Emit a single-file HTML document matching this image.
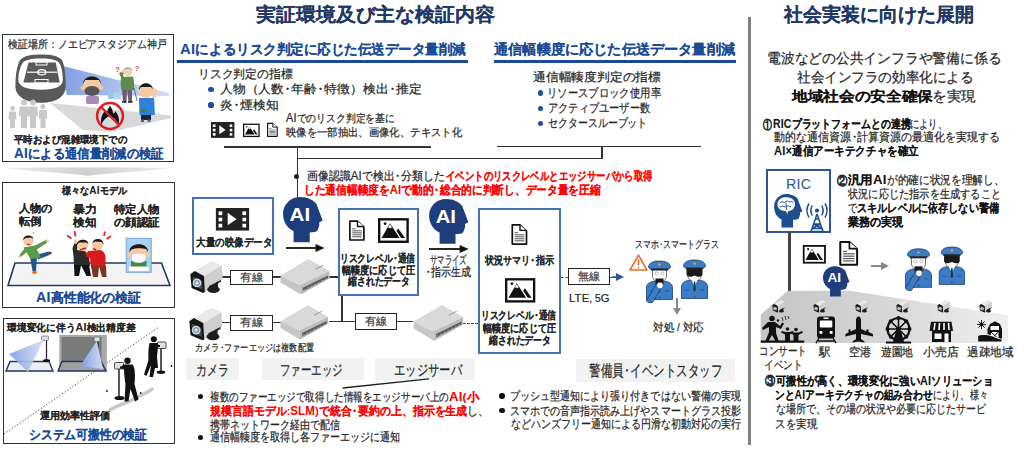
<!DOCTYPE html>
<html lang="ja"><head><meta charset="utf-8"><style>
html,body{margin:0;padding:0;background:#fff;width:1024px;height:451px;overflow:hidden;position:relative}
body{font-family:"Liberation Sans",sans-serif}
.t{position:absolute;white-space:nowrap;line-height:1;transform-origin:0 50%;-webkit-text-stroke:0.22px currentColor}
.b{font-weight:bold;-webkit-text-stroke:0.05px currentColor}
.n{margin:0 -0.22em}
.ai{font-size:1.1em;letter-spacing:0.02em}
svg{position:absolute;overflow:visible}
</style></head><body>

<div style="position:absolute;left:2.2px;top:33.8px;width:171.8px;height:128.60000000000002px;box-sizing:border-box;border:1.8px solid #333;background:transparent;"></div>
<div style="position:absolute;left:2.2px;top:181.6px;width:172.8px;height:126.79999999999998px;box-sizing:border-box;border:1.8px solid #333;background:transparent;"></div>
<div style="position:absolute;left:2.8px;top:317.8px;width:172.2px;height:126.59999999999997px;box-sizing:border-box;border:1.8px solid #333;background:transparent;"></div>
<div style="position:absolute;left:177px;top:60.199999999999996px;width:291px;height:3.2px;background:#1a4a96"></div>
<div style="position:absolute;left:494px;top:60.199999999999996px;width:241.5px;height:3.2px;background:#1a4a96"></div>
<div style="position:absolute;left:208.4px;top:87.0px;width:5.2px;height:5.2px;border-radius:50%;background:#1f4e9c"></div>
<div style="position:absolute;left:208.4px;top:102.4px;width:5.2px;height:5.2px;border-radius:50%;background:#1f4e9c"></div>
<div style="position:absolute;left:537.9px;top:90.4px;width:5.2px;height:5.2px;border-radius:50%;background:#1f4e9c"></div>
<div style="position:absolute;left:537.9px;top:105.7px;width:5.2px;height:5.2px;border-radius:50%;background:#1f4e9c"></div>
<div style="position:absolute;left:537.9px;top:121.0px;width:5.2px;height:5.2px;border-radius:50%;background:#1f4e9c"></div>
<div style="position:absolute;left:224px;top:146.25px;width:207px;height:1.5px;background:#333"></div>
<div style="position:absolute;left:497px;top:145.75px;width:204px;height:1.5px;background:#333"></div>
<div style="position:absolute;left:296.75px;top:147px;width:1.5px;height:50px;background:#333"></div>
<div style="position:absolute;left:601.45px;top:146.5px;width:1.5px;height:12.0px;background:#333"></div>
<div style="position:absolute;left:297.5px;top:157.75px;width:305.4px;height:1.5px;background:#333"></div>
<div style="position:absolute;left:293.5px;top:173.5px;width:5px;height:5px;border-radius:50%;background:#222"></div>
<div style="position:absolute;left:192px;top:196.9px;width:82.19999999999999px;height:57.900000000000006px;box-sizing:border-box;border:2px solid #4672b4;background:transparent;"></div>
<div style="position:absolute;left:337.6px;top:207.6px;width:81.79999999999995px;height:88.4px;box-sizing:border-box;border:2px solid #4672b4;background:transparent;"></div>
<div style="position:absolute;left:477.6px;top:207.6px;width:83.60000000000002px;height:146.79999999999998px;box-sizing:border-box;border:2px solid #4672b4;background:transparent;"></div>
<div style="position:absolute;left:230px;top:270px;width:42.5px;height:15.199999999999989px;box-sizing:border-box;border:1.5px solid #222;background:#fff;"></div>
<div style="position:absolute;left:222px;top:276.25px;width:8px;height:1.5px;background:#333"></div>
<div style="position:absolute;left:272.5px;top:276.25px;width:8.5px;height:1.5px;background:#333"></div>
<div style="position:absolute;left:329px;top:276.25px;width:9px;height:1.5px;background:#333"></div>
<div style="position:absolute;left:230px;top:315px;width:42.5px;height:16.19999999999999px;box-sizing:border-box;border:1.5px solid #222;background:#fff;"></div>
<div style="position:absolute;left:222px;top:321.75px;width:8px;height:1.5px;background:#333"></div>
<div style="position:absolute;left:272.5px;top:321.75px;width:8.5px;height:1.5px;background:#333"></div>
<div style="position:absolute;left:329px;top:320.75px;width:26px;height:1.5px;background:#333"></div>
<div style="position:absolute;left:341.05px;top:295.6px;width:1.5px;height:26.399999999999977px;background:#333"></div>
<div style="position:absolute;left:355px;top:313.3px;width:41.80000000000001px;height:17.19999999999999px;box-sizing:border-box;border:1.5px solid #222;background:#fff;"></div>
<div style="position:absolute;left:396.8px;top:320.75px;width:16.19999999999999px;height:1.5px;background:#333"></div>
<div style="position:absolute;left:463px;top:322.55px;width:15px;height:0;border-top:1.5px dashed #2e5597"></div>
<div style="position:absolute;left:561px;top:276.55px;width:7px;height:0;border-top:1.5px dashed #2e5597"></div>
<div style="position:absolute;left:568px;top:268px;width:41.700000000000045px;height:16.600000000000023px;box-sizing:border-box;border:1.5px solid #222;background:#fff;"></div>
<div style="position:absolute;left:186.4px;top:358.2px;width:52.19999999999999px;height:21.69999999999999px;box-sizing:border-box;border:none;background:#f2f2f2;"></div>
<div style="position:absolute;left:262px;top:358.2px;width:102px;height:21.69999999999999px;box-sizing:border-box;border:none;background:#f2f2f2;"></div>
<div style="position:absolute;left:374.8px;top:358.2px;width:100.69999999999999px;height:21.69999999999999px;box-sizing:border-box;border:none;background:#f2f2f2;"></div>
<div style="position:absolute;left:575.8px;top:358.5px;width:159.20000000000005px;height:23.100000000000023px;box-sizing:border-box;border:none;background:#f2f2f2;"></div>
<div style="position:absolute;left:198.10000000000002px;top:393.90000000000003px;width:5.4px;height:5.4px;border-radius:50%;background:#111"></div>
<div style="position:absolute;left:198.10000000000002px;top:434.6px;width:5.4px;height:5.4px;border-radius:50%;background:#111"></div>
<div style="position:absolute;left:499.3px;top:393.3px;width:5.4px;height:5.4px;border-radius:50%;background:#111"></div>
<div style="position:absolute;left:499.3px;top:408.1px;width:5.4px;height:5.4px;border-radius:50%;background:#111"></div>
<div style="position:absolute;left:748.2px;top:17.3px;width:3.3px;height:427.5px;background:#7f7f7f"></div>
<div style="position:absolute;left:766px;top:168.6px;width:65.20000000000005px;height:64.80000000000001px;box-sizing:border-box;border:2px solid #2e5597;background:transparent;"></div>
<div style="position:absolute;left:787.7px;top:232.4px;width:3px;height:59.099999999999994px;background:#444"></div>
<svg style="left:211.3px;top:122.1px" width="23.4" height="15.9" viewBox="0 0 23.4 15.9"><rect width="23.4" height="15.9" fill="#222"/><rect x="1.9000000000000001" y="2.4000000000000004" width="2.6" height="2.6" fill="#fff"/><rect x="1.9000000000000001" y="6.8" width="2.6" height="2.6" fill="#fff"/><rect x="1.9000000000000001" y="11.1" width="2.6" height="2.6" fill="#fff"/><rect x="18.7" y="2.4000000000000004" width="2.6" height="2.6" fill="#fff"/><rect x="18.7" y="6.8" width="2.6" height="2.6" fill="#fff"/><rect x="18.7" y="11.1" width="2.6" height="2.6" fill="#fff"/><polygon points="8.3,3.3 14.6,8 8.3,12.2" fill="#fff"/></svg>
<svg style="left:242.5px;top:122.8px" width="16.7" height="14.7" viewBox="0 0 31 25"><rect x="1.2" y="1.2" width="28.6" height="22.6" fill="#fff" stroke="#111" stroke-width="2.4"/><polygon points="3.6,20 12.1,5.2 21.6,20" fill="#111"/><polygon points="10.2,9 12.1,6.2 14,9 13,10.3 12.1,9.6 11.2,10.3" fill="#fff"/><polygon points="18.6,12.6 20.4,10.4 27.2,20 23.2,20" fill="#111"/><circle cx="7.1" cy="5.6" r="1.4" fill="#111"/></svg>
<svg style="left:267.4px;top:122px" width="10.8" height="15.7" viewBox="0 0 16 21"><path d="M0.9,0.9 H8.6 L15.1,7 V20.1 H0.9 Z" fill="#fff" stroke="#111" stroke-width="1.7" stroke-linejoin="round"/><path d="M8.6,0.9 V6.4 H15.1" fill="#fff" stroke="#111" stroke-width="1.4"/><rect x="3.3" y="8.3" width="3.3" height="0.9" fill="#444"/><rect x="3.3" y="10.3" width="9.6" height="1" fill="#555"/><rect x="3.3" y="12.3" width="9.6" height="1" fill="#555"/><rect x="3.3" y="14.3" width="9.6" height="1" fill="#555"/><rect x="3.3" y="16.3" width="9.6" height="1" fill="#555"/></svg>
<svg style="left:214px;top:207.6px" width="37" height="22.6" viewBox="0 0 23.4 15.9"><rect width="23.4" height="15.9" fill="#222"/><rect x="1.9000000000000001" y="2.4000000000000004" width="2.6" height="2.6" fill="#fff"/><rect x="1.9000000000000001" y="6.8" width="2.6" height="2.6" fill="#fff"/><rect x="1.9000000000000001" y="11.1" width="2.6" height="2.6" fill="#fff"/><rect x="18.7" y="2.4000000000000004" width="2.6" height="2.6" fill="#fff"/><rect x="18.7" y="6.8" width="2.6" height="2.6" fill="#fff"/><rect x="18.7" y="11.1" width="2.6" height="2.6" fill="#fff"/><polygon points="8.3,3.3 14.6,8 8.3,12.2" fill="#fff"/></svg>
<svg style="left:282.8px;top:196.8px" width="40" height="45.3" viewBox="0 0 40 45.3"><path d="M10.6,45.3 L10.6,34.2 C4,31 0,24.5 0,16.8 C0,7.5 7.5,0 17.2,0 C25,0 31,3.5 33.5,7 L35.5,12.5 L39.7,23.6 L36.3,25.3 L36.3,28.5 L34.5,33.5 C33,35 30.5,35.4 26.7,35.4 L26.7,45.3 Z" fill="#1f3d7d"/><text x="6.6" y="23.8" font-family="Liberation Sans" font-weight="bold" font-size="18.5" textLength="20.6" lengthAdjust="spacingAndGlyphs" fill="#fff">AI</text></svg>
<svg style="left:349.2px;top:220px" width="15.8" height="21.1" viewBox="0 0 16 21"><path d="M0.9,0.9 H8.6 L15.1,7 V20.1 H0.9 Z" fill="#fff" stroke="#111" stroke-width="1.7" stroke-linejoin="round"/><path d="M8.6,0.9 V6.4 H15.1" fill="#fff" stroke="#111" stroke-width="1.4"/><rect x="3.3" y="8.3" width="3.3" height="0.9" fill="#444"/><rect x="3.3" y="10.3" width="9.6" height="1" fill="#555"/><rect x="3.3" y="12.3" width="9.6" height="1" fill="#555"/><rect x="3.3" y="14.3" width="9.6" height="1" fill="#555"/><rect x="3.3" y="16.3" width="9.6" height="1" fill="#555"/></svg>
<svg style="left:378.4px;top:218px" width="30.8" height="25.1" viewBox="0 0 31 25"><rect x="1.2" y="1.2" width="28.6" height="22.6" fill="#fff" stroke="#111" stroke-width="2.4"/><polygon points="3.6,20 12.1,5.2 21.6,20" fill="#111"/><polygon points="10.2,9 12.1,6.2 14,9 13,10.3 12.1,9.6 11.2,10.3" fill="#fff"/><polygon points="18.6,12.6 20.4,10.4 27.2,20 23.2,20" fill="#111"/><circle cx="7.1" cy="5.6" r="1.4" fill="#111"/></svg>
<svg style="left:429.3px;top:198.6px" width="39.8" height="44.8" viewBox="0 0 40 45.3"><path d="M10.6,45.3 L10.6,34.2 C4,31 0,24.5 0,16.8 C0,7.5 7.5,0 17.2,0 C25,0 31,3.5 33.5,7 L35.5,12.5 L39.7,23.6 L36.3,25.3 L36.3,28.5 L34.5,33.5 C33,35 30.5,35.4 26.7,35.4 L26.7,45.3 Z" fill="#1f3d7d"/><text x="6.6" y="23.8" font-family="Liberation Sans" font-weight="bold" font-size="18.5" textLength="20.6" lengthAdjust="spacingAndGlyphs" fill="#fff">AI</text></svg>
<svg style="left:511px;top:223.5px" width="16.8" height="21" viewBox="0 0 16 21"><path d="M0.9,0.9 H8.6 L15.1,7 V20.1 H0.9 Z" fill="#fff" stroke="#111" stroke-width="1.7" stroke-linejoin="round"/><path d="M8.6,0.9 V6.4 H15.1" fill="#fff" stroke="#111" stroke-width="1.4"/><rect x="3.3" y="8.3" width="3.3" height="0.9" fill="#444"/><rect x="3.3" y="10.3" width="9.6" height="1" fill="#555"/><rect x="3.3" y="12.3" width="9.6" height="1" fill="#555"/><rect x="3.3" y="14.3" width="9.6" height="1" fill="#555"/><rect x="3.3" y="16.3" width="9.6" height="1" fill="#555"/></svg>
<svg style="left:504.7px;top:277.3px" width="30.3" height="26.7" viewBox="0 0 31 25"><rect x="1.2" y="1.2" width="28.6" height="22.6" fill="#fff" stroke="#111" stroke-width="2.4"/><polygon points="3.6,20 12.1,5.2 21.6,20" fill="#111"/><polygon points="10.2,9 12.1,6.2 14,9 13,10.3 12.1,9.6 11.2,10.3" fill="#fff"/><polygon points="18.6,12.6 20.4,10.4 27.2,20 23.2,20" fill="#111"/><circle cx="7.1" cy="5.6" r="1.4" fill="#111"/></svg>
<svg style="left:189.7px;top:260.9px" width="33" height="32" viewBox="0 0 33 32"><polygon points="4.7,10.1 22,0 31.8,4.4 14,15.1" fill="#e9e9e9"/><polygon points="14,15.1 31.8,4.4 32.7,18.1 14.9,31.1" fill="#cfcfcf"/><polygon points="26,21.5 31,18.8 31,20.8 26,23.5" fill="#333"/><polygon points="19,25 28,20.5 28,27 19,31" fill="#1e1e1e"/><ellipse cx="23.5" cy="28.5" rx="6.3" ry="3.4" fill="#1e1e1e"/><polygon points="0.3,13.3 4.7,10.1 14,15.1 14.9,31.1 13.1,31.9 1.6,27.1" fill="#161616"/><polygon points="2.6,15.5 12,20 12.5,28.8 3.4,24.6" fill="#4a4a4a"/><circle cx="7" cy="21.9" r="4.3" fill="#d5dbe0"/><circle cx="7" cy="21.9" r="3" fill="#7f9cba"/><circle cx="7" cy="21.9" r="1.5" fill="#e4ecf3"/></svg>
<svg style="left:279.7px;top:259.4px" width="50.5" height="35.9" viewBox="0 0 51 36"><polygon points="0.5,16.6 28.9,0 49.9,12 20.1,26.4" fill="#d9d9d9"/><polygon points="0.5,16.6 20.1,26.4 21,35.7 0.5,23.6" fill="#c6c6c6"/><polygon points="20.1,26.4 49.9,12 50.2,19.4 21,35.7" fill="#bdbdbd"/><polygon points="23,29 48.5,16.5 48.5,19.2 23,32.5" fill="#5a5a5a"/><line x1="23.5" y1="31.2" x2="25.5" y2="30.2" stroke="#bbb" stroke-width="0.7"/><line x1="27.1" y1="29.419999999999998" x2="29.1" y2="28.419999999999998" stroke="#bbb" stroke-width="0.7"/><line x1="30.7" y1="27.64" x2="32.7" y2="26.64" stroke="#bbb" stroke-width="0.7"/><line x1="34.3" y1="25.86" x2="36.3" y2="24.86" stroke="#bbb" stroke-width="0.7"/><line x1="37.9" y1="24.08" x2="39.9" y2="23.08" stroke="#bbb" stroke-width="0.7"/><line x1="41.5" y1="22.299999999999997" x2="43.5" y2="21.299999999999997" stroke="#bbb" stroke-width="0.7"/><line x1="45.1" y1="20.52" x2="47.1" y2="19.52" stroke="#bbb" stroke-width="0.7"/><polygon points="35,10 43,6 44,6.6 36,10.6" fill="#999"/></svg>
<svg style="left:189.3px;top:306.5px" width="33.7" height="34" viewBox="0 0 33 32"><polygon points="4.7,10.1 22,0 31.8,4.4 14,15.1" fill="#e9e9e9"/><polygon points="14,15.1 31.8,4.4 32.7,18.1 14.9,31.1" fill="#cfcfcf"/><polygon points="26,21.5 31,18.8 31,20.8 26,23.5" fill="#333"/><polygon points="19,25 28,20.5 28,27 19,31" fill="#1e1e1e"/><ellipse cx="23.5" cy="28.5" rx="6.3" ry="3.4" fill="#1e1e1e"/><polygon points="0.3,13.3 4.7,10.1 14,15.1 14.9,31.1 13.1,31.9 1.6,27.1" fill="#161616"/><polygon points="2.6,15.5 12,20 12.5,28.8 3.4,24.6" fill="#4a4a4a"/><circle cx="7" cy="21.9" r="4.3" fill="#d5dbe0"/><circle cx="7" cy="21.9" r="3" fill="#7f9cba"/><circle cx="7" cy="21.9" r="1.5" fill="#e4ecf3"/></svg>
<svg style="left:280px;top:303.5px" width="49" height="37" viewBox="0 0 51 36"><polygon points="0.5,16.6 28.9,0 49.9,12 20.1,26.4" fill="#d9d9d9"/><polygon points="0.5,16.6 20.1,26.4 21,35.7 0.5,23.6" fill="#c6c6c6"/><polygon points="20.1,26.4 49.9,12 50.2,19.4 21,35.7" fill="#bdbdbd"/><polygon points="23,29 48.5,16.5 48.5,19.2 23,32.5" fill="#5a5a5a"/><line x1="23.5" y1="31.2" x2="25.5" y2="30.2" stroke="#bbb" stroke-width="0.7"/><line x1="27.1" y1="29.419999999999998" x2="29.1" y2="28.419999999999998" stroke="#bbb" stroke-width="0.7"/><line x1="30.7" y1="27.64" x2="32.7" y2="26.64" stroke="#bbb" stroke-width="0.7"/><line x1="34.3" y1="25.86" x2="36.3" y2="24.86" stroke="#bbb" stroke-width="0.7"/><line x1="37.9" y1="24.08" x2="39.9" y2="23.08" stroke="#bbb" stroke-width="0.7"/><line x1="41.5" y1="22.299999999999997" x2="43.5" y2="21.299999999999997" stroke="#bbb" stroke-width="0.7"/><line x1="45.1" y1="20.52" x2="47.1" y2="19.52" stroke="#bbb" stroke-width="0.7"/><polygon points="35,10 43,6 44,6.6 36,10.6" fill="#999"/></svg>
<svg style="left:412.5px;top:304.6px" width="51.2" height="36" viewBox="0 0 51 36"><polygon points="0.5,16.6 28.9,0 49.9,12 20.1,26.4" fill="#d9d9d9"/><polygon points="0.5,16.6 20.1,26.4 21,35.7 0.5,23.6" fill="#c6c6c6"/><polygon points="20.1,26.4 49.9,12 50.2,19.4 21,35.7" fill="#bdbdbd"/><polygon points="23,29 48.5,16.5 48.5,19.2 23,32.5" fill="#5a5a5a"/><line x1="23.5" y1="31.2" x2="25.5" y2="30.2" stroke="#bbb" stroke-width="0.7"/><line x1="27.1" y1="29.419999999999998" x2="29.1" y2="28.419999999999998" stroke="#bbb" stroke-width="0.7"/><line x1="30.7" y1="27.64" x2="32.7" y2="26.64" stroke="#bbb" stroke-width="0.7"/><line x1="34.3" y1="25.86" x2="36.3" y2="24.86" stroke="#bbb" stroke-width="0.7"/><line x1="37.9" y1="24.08" x2="39.9" y2="23.08" stroke="#bbb" stroke-width="0.7"/><line x1="41.5" y1="22.299999999999997" x2="43.5" y2="21.299999999999997" stroke="#bbb" stroke-width="0.7"/><line x1="45.1" y1="20.52" x2="47.1" y2="19.52" stroke="#bbb" stroke-width="0.7"/><polygon points="35,10 43,6 44,6.6 36,10.6" fill="#999"/></svg>
<svg style="left:645.7px;top:260.5px" width="27" height="41" viewBox="0 0 27 41"><path d="M0.5,38.5 L0.5,27 C0.5,23 3,21.2 8,20.2 L19,20.2 C24,21.2 26.5,23 26.5,27 L26.5,38.5 Z" fill="#3a7cc8" stroke="#1a3a6a" stroke-width="0.8"/><circle cx="13.5" cy="31" r="0.8" fill="#5a3a20"/><circle cx="13.5" cy="36.5" r="0.8" fill="#5a3a20"/><path d="M4,30 L8,30 M19,30 L23,30" stroke="#1a3a6a" stroke-width="0.6"/><path d="M6.5,8 L6.5,15 C7,19 10.5,21.5 13.5,21.5 C16.5,21.5 20,19 20.5,15 L20.5,8 Z" fill="#fff" stroke="#333" stroke-width="0.7"/><circle cx="10.5" cy="12.5" r="1.6" fill="none" stroke="#777" stroke-width="0.5"/><circle cx="16.5" cy="12.5" r="1.6" fill="none" stroke="#777" stroke-width="0.5"/><path d="M2.5,6.5 C2.5,1.5 8,0 13.5,0 C19,0 24.5,1.5 24.5,6.5 L22,8.5 L5,8.5 Z" fill="#3a7cc8" stroke="#1a3a6a" stroke-width="0.8"/><rect x="5" y="7.5" width="17" height="2" fill="#222"/><circle cx="13.5" cy="3.6" r="1.3" fill="#e8a030"/><path d="M9.5,17.5 L17.5,17.5 L17.5,23 L9.5,23 Z" fill="#1a1a1a"/><path d="M0.5,39.5 L10.5,22.5 L16.5,25 L6.5,41.5 C4,42 1,41.5 0.5,39.5 Z" fill="#3a7cc8" stroke="#1a3a6a" stroke-width="0.8"/><circle cx="14" cy="24.5" r="3.3" fill="#fff" stroke="#333" stroke-width="0.6"/></svg>
<svg style="left:681px;top:260px" width="27" height="41" viewBox="0 0 27 41"><path d="M0.5,38.5 L0.5,27 C0.5,23 3,21.2 8,20.2 L19,20.2 C24,21.2 26.5,23 26.5,27 L26.5,38.5 Z" fill="#3a7cc8" stroke="#1a3a6a" stroke-width="0.8"/><circle cx="13.5" cy="31" r="0.8" fill="#5a3a20"/><circle cx="13.5" cy="36.5" r="0.8" fill="#5a3a20"/><path d="M4,30 L8,30 M19,30 L23,30" stroke="#1a3a6a" stroke-width="0.6"/><path d="M6.5,8 L6.5,15 C7,19 10.5,21.5 13.5,21.5 C16.5,21.5 20,19 20.5,15 L20.5,8 Z" fill="#fff" stroke="#333" stroke-width="0.7"/><path d="M5.5,10 C5.5,8.5 8,8.5 13.5,9 C19,8.5 21.5,8.5 21.5,10 L21.5,14 C21.5,16.5 19,17 16,16.5 L13.5,15.5 L11,16.5 C8,17 5.5,16.5 5.5,14 Z" fill="#1a1a1a"/><path d="M2.5,6.5 C2.5,1.5 8,0 13.5,0 C19,0 24.5,1.5 24.5,6.5 L22,8.5 L5,8.5 Z" fill="#3a7cc8" stroke="#1a3a6a" stroke-width="0.8"/><rect x="5" y="7.5" width="17" height="2" fill="#222"/><circle cx="13.5" cy="3.6" r="1.3" fill="#e8a030"/><polygon points="10.5,20.5 16.5,20.5 13.5,26" fill="#fff"/><polygon points="12.8,21.5 14.2,21.5 14.8,30 13.5,31.5 12.2,30" fill="#333"/></svg>
<svg style="left:286px;top:244.0px" width="38.5" height="8" viewBox="0 0 38.5 8"><rect x="0" y="3.1" width="30.5" height="1.8" fill="#111"/><polygon points="29.5,0 38.5,4.0 29.5,8" fill="#111"/></svg>
<svg style="left:429px;top:245.0px" width="39.60000000000002" height="8" viewBox="0 0 39.60000000000002 8"><rect x="0" y="3.1" width="31.600000000000023" height="1.8" fill="#111"/><polygon points="30.600000000000023,0 39.60000000000002,4.0 30.600000000000023,8" fill="#111"/></svg>
<div style="position:absolute;left:609.7px;top:276.55px;width:6.2999999999999545px;height:0;border-top:1.5px dashed #2e5597"></div>
<svg style="left:612px;top:273.3px" width="12" height="8" viewBox="0 0 12 8"><rect x="0" y="3.25" width="5" height="1.5" fill="#2e5597"/><polygon points="4,0 12,4.0 4,8" fill="#2e5597"/></svg>
<svg style="left:672.6px;top:298.3px" width="8" height="17.099999999999966" viewBox="0 0 8 17.099999999999966"><rect x="3.0" y="0" width="2" height="11.099999999999966" fill="#888"/><polygon points="0,10.099999999999966 8,10.099999999999966 4.0,17.099999999999966" fill="#888"/></svg>
<svg style="left:871px;top:261.7px" width="18" height="8" viewBox="0 0 18 8"><rect x="0" y="3.0" width="11" height="2" fill="#888"/><polygon points="10,0 18,4.0 10,8" fill="#888"/></svg>
<svg style="left:0;top:0" width="1024" height="451" viewBox="0 0 1024 451"><defs><linearGradient id="beam" x1="0" x2="1" y1="0" y2="0"><stop offset="0" stop-color="#7f9de0"/><stop offset="1" stop-color="#d4ddf4"/></linearGradient><linearGradient id="floorR" x1="0" x2="1" y1="0" y2="0"><stop offset="0" stop-color="#bdbdbd"/><stop offset="1" stop-color="#f2f2f2"/></linearGradient></defs><polygon points="50,103 171,115.5 171,118 111,132 83,130" fill="#d9d9d9"/><polygon points="59,65 169,93 169,96 67,95" fill="url(#beam)"/><path d="M21,59 C26,55 34,54.5 41,54.5 C48,54.5 56,55 61,59 C64,62 65.7,72 65.7,86 C65.7,97 56,102.7 41,102.7 C26,102.7 15.4,97 15.4,86 C15.4,72 18,62 21,59 Z" fill="#595959"/><path d="M24,61.5 C28,59 35,58.5 41,58.5 C47,58.5 54,59 58,61.5 C61,64 62.8,72 62.8,80 C62.8,86 56,89.8 41,89.8 C26,89.8 18.3,86 18.3,80 C18.3,72 21,64 24,61.5 Z" fill="#fff"/><polygon points="28.5,62.4 55.7,62.4 59.7,82.4 23.4,82.4" fill="#595959"/><line x1="27" y1="72.2" x2="57.5" y2="72.2" stroke="#fff" stroke-width="1.2"/><ellipse cx="41.8" cy="72.2" rx="4" ry="2.6" fill="none" stroke="#fff" stroke-width="1.2"/><rect x="36" y="62" width="11" height="3" fill="none" stroke="#fff" stroke-width="1"/><rect x="35" y="79.5" width="13" height="3.5" fill="none" stroke="#fff" stroke-width="1"/><circle cx="12.5" cy="108.4" r="2.4000000000000004" fill="#c8c8c8"/><path d="M8.9,111.6 L16.1,111.6 L16.5,119.6 L14.9,119.6 L14.9,128 L10.1,128 L10.1,119.6 L8.5,119.6 Z" fill="#c8c8c8"/><circle cx="24" cy="102.5" r="3.0" fill="#c8c8c8"/><path d="M19.5,106.5 L28.5,106.5 L29.0,116.5 L27.0,116.5 L27.0,128 L21.0,128 L21.0,116.5 L19.0,116.5 Z" fill="#c8c8c8"/><circle cx="33" cy="102.5" r="3.0" fill="#c8c8c8"/><path d="M28.5,106.5 L37.5,106.5 L38.0,116.5 L36.0,116.5 L36.0,128 L30.0,128 L30.0,116.5 L28.0,116.5 Z" fill="#c8c8c8"/><circle cx="43" cy="106.55" r="2.55" fill="#c8c8c8"/><path d="M39.175,109.95 L46.825,109.95 L47.25,118.45 L45.55,118.45 L45.55,128 L40.45,128 L40.45,118.45 L38.75,118.45 Z" fill="#c8c8c8"/><rect x="108" y="90" width="5" height="9" fill="#9cc3ea"/><rect x="113" y="92.5" width="8" height="6.5" fill="#b3d2f0"/><rect x="86" y="96" width="13" height="8" rx="2" fill="#a68cb8"/><circle cx="92" cy="86" r="9" fill="#f6caa0"/><path d="M83,84 C83,74 101,74 101,84 L99,80 L85,80 Z" fill="#1d1d1d"/><ellipse cx="92" cy="91" rx="7.5" ry="5" fill="#555"/><circle cx="82.5" cy="88" r="2" fill="#f6caa0"/><circle cx="101.5" cy="88" r="2" fill="#f6caa0"/><path d="M122,89 L127,89 L126.5,101.5 L123,101.5 Z" fill="#6b5d6e"/><path d="M127,89 L132,89 L132,101.5 L128.5,101.5 Z" fill="#6b5d6e"/><rect x="122" y="101" width="4.5" height="1.8" fill="#333"/><rect x="128" y="101" width="4.5" height="1.8" fill="#333"/><path d="M121,77 L133,76.5 C134,80 134.5,86 134,90 L121.5,90 C120.5,86 120.5,81 121,77 Z" fill="#5b8c4b"/><path d="M121.5,78 L119,73.5 L122.5,70.5 L124.5,72 L123,75 L124.5,78 Z" fill="#5b8c4b"/><circle cx="127.8" cy="71.8" r="4.4" fill="#f3d2b0"/><path d="M123.2,71 C123,66.3 132.5,66 132.5,71 L130.5,69 L125,69 Z" fill="#a8a8a8"/><circle cx="122.5" cy="71.3" r="1.5" fill="#f3d2b0"/><line x1="134" y1="88" x2="137" y2="101" stroke="#555" stroke-width="0.8"/><text x="115.3" y="71.5" font-size="7.5" font-family="Liberation Sans" font-weight="bold" fill="#e23b3b">?</text><text x="134.8" y="70.5" font-size="7.5" font-family="Liberation Sans" font-weight="bold" fill="#e23b3b">?</text><rect x="141" y="114" width="10" height="6" fill="#223"/><rect x="141" y="119.5" width="3" height="2.5" fill="#2f6fc0"/><rect x="147.5" y="119.5" width="3" height="2.5" fill="#2f6fc0"/><path d="M139,98 L154,98 L155,115 L139.5,115 Z" fill="#2f80d8"/><circle cx="146" cy="91" r="7" fill="#f6caa0"/><path d="M139,90 C139,81 153,81 153,90 L151,87 L141,87 Z" fill="#1d1d1d"/><rect x="152" y="88" width="4.5" height="10" rx="2" fill="#f6caa0"/><rect x="140" y="109" width="7" height="3" fill="#3a8a3a"/><circle cx="110" cy="116" r="12.9" fill="none" stroke="#e01a22" stroke-width="2.5"/><path d="M101.5,125 C100,119 102,114 105,111 C105,113 106,114 107,113 C107,110 109,108 110,105.5 C111,108 113,110 113,113 C114,114 115,113 115,111 C118,114 120,119 118.5,125 C117.5,121 114,117 110,116 C106,117 102.5,121 101.5,125 Z" fill="#111"/><line x1="101.5" y1="107.5" x2="118.5" y2="124.5" stroke="#e01a22" stroke-width="2.3"/><polygon points="15,263 161.5,263 170,285.5 8,285.5" fill="#f4f4f4" stroke="#1f3864" stroke-width="1.6"/><path d="M30,257 L37,256 L36,271 L32.5,271 Z" fill="#24578f"/><path d="M36,255 L48.5,251.5 L49.5,255 L38,259.5 Z" fill="#24578f"/><path d="M23.5,247.5 L35,245.5 L41,257.5 L30.5,259 Z" fill="#5b9a48"/><path d="M33,246.5 L46,240 L47.5,242.5 L36,250 Z" fill="#5b9a48"/><path d="M25,248 L19,255.5 L21,257 L28,251 Z" fill="#5b9a48"/><circle cx="47.5" cy="240.8" r="1.6" fill="#f6caa0"/><circle cx="19.5" cy="256.5" r="1.6" fill="#f6caa0"/><circle cx="28.3" cy="241" r="5.2" fill="#f6caa0"/><path d="M23,240 C23.5,234.5 32.5,234 33.5,239 L31,237.5 L25.5,238 Z" fill="#1a1a1a"/><path d="M27,244 L30,245" stroke="#c22" stroke-width="1.3"/><ellipse cx="34.5" cy="272.3" rx="2.6" ry="1.6" fill="#e8701a"/><ellipse cx="50" cy="253" rx="1.8" ry="1.5" fill="#7a3a20"/><path d="M33,232 L34,234" stroke="#6bb0e0" stroke-width="1"/><path d="M72.5,248 L75,242 L78,243 L77,250 L85,251 L89,256 L90,266 L74,266 L73.5,256 Z" fill="#2b2b2b"/><circle cx="75.5" cy="242" r="2" fill="#f6caa0"/><path d="M74,265 L81,265 L79,276 L74.5,276 Z" fill="#111"/><path d="M81,265 L89,265 L91,276 L86.5,276 Z" fill="#111"/><circle cx="82.5" cy="245.5" r="5.5" fill="#f6caa0"/><path d="M76.8,245 C76.5,238.5 88,238 88.5,244 L86.5,242.5 L79,242.5 Z" fill="#1a1a1a"/><path d="M80,250 L86,248" stroke="#c22" stroke-width="1.5"/><path d="M88,251 L100,250 C104,251 105.5,254 105.5,258 L105.5,267 L91,267 L90,258 L86,256 Z" fill="#d8191e"/><path d="M85,253 L91,251.5 L92,255 L86.5,257 Z" fill="#d8191e"/><path d="M91,266 L99,266 L98,277 L93,277 Z" fill="#7a3520"/><path d="M99,266 L106,266 L106.5,277 L102,277 Z" fill="#7a3520"/><circle cx="97.5" cy="244.5" r="5.5" fill="#f6caa0"/><path d="M92.5,243 C93,237.5 104,237.5 103.5,245 L102,242 L95,241.5 Z" fill="#1a1a1a"/><path d="M93,248.5 L96,250" stroke="#c22" stroke-width="1.6"/><path d="M67,235.5 L71.5,238.5 M74.5,231 L75.5,236.5 M105,231.5 L104,236 M111,236 L106.5,239" stroke="#e02828" stroke-width="1.8"/><rect x="126.2" y="238.3" width="25" height="34" fill="#a9d2f2" stroke="#6b9fd6" stroke-width="0.9"/><rect x="131" y="261" width="15.5" height="6" fill="#3a8a4a"/><rect x="129" y="266.5" width="19.5" height="4.5" fill="#fff"/><circle cx="129.2" cy="255" r="2.2" fill="#f6caa0"/><circle cx="148.2" cy="255" r="2.2" fill="#f6caa0"/><ellipse cx="138.7" cy="253.5" rx="9" ry="9.5" fill="#f6caa0"/><path d="M129.5,252 C128.5,242 148.5,241.5 148,252 L146,249 C142,248 135,248 131.5,249.5 Z" fill="#1a1a1a"/><path d="M131.5,254.5 C134,253 143,253 146,254.5 L145.5,260.5 C142,263.5 135.5,263.5 132,260.5 Z" fill="#fafafa" stroke="#ccc" stroke-width="0.5"/><line x1="4" y1="434" x2="159" y2="327" stroke="#444" stroke-width="1" stroke-dasharray="1.2,2"/><polygon points="10,361.5 49,361.5 53,371 6,371" fill="#eeeeee" stroke="#1f3864" stroke-width="1.4"/><line x1="46.5" y1="340" x2="46.5" y2="360" stroke="#222" stroke-width="1.2"/><ellipse cx="46.5" cy="360.5" rx="3.5" ry="1.6" fill="#111"/><rect x="41.5" y="336" width="7" height="4.5" rx="1" fill="#ddd" stroke="#555" stroke-width="0.6"/><polygon points="43.5,340 9,354 28,372" fill="url(#beam)" opacity="0.9"/><rect x="59.3" y="335" width="47.5" height="36" fill="#a8a8a8"/><rect x="61.5" y="337" width="40" height="25" fill="#7a7a7a"/><polygon points="62,361.5 101,361.5 106,371 58,371" fill="#a0a0a0" stroke="#1f3864" stroke-width="1.4"/><line x1="98" y1="341" x2="98" y2="362" stroke="#222" stroke-width="1.2"/><ellipse cx="98.5" cy="362" rx="3" ry="1.5" fill="#111"/><rect x="94" y="337" width="6" height="4.5" rx="1" fill="#ddd" stroke="#555" stroke-width="0.6"/><polygon points="96.8,341 80,366 103,369" fill="url(#beam)"/><path d="M110,410 C120,404 128,403 136,398 C142,394 148,393 152,389" fill="none" stroke="#c8c8c8" stroke-width="3.5" stroke-linecap="round"/><line x1="119" y1="368" x2="119" y2="397" stroke="#111" stroke-width="1.4"/><ellipse cx="119.5" cy="398" rx="5" ry="2" fill="#111"/><rect x="114.5" y="362.5" width="9" height="6.5" rx="1" fill="#e2e2e2" stroke="#222" stroke-width="0.8"/><circle cx="127.5" cy="360.8" r="3.2" fill="#111"/><path d="M123.5,364.5 L132.5,364.5 C135,367 135.5,376 134.5,384 L138.5,399.5 L135,401.5 L130.5,389 L128.5,401.5 L124.5,401.5 L125.5,384 C124.5,378 124,372 124,369.5 L122,368.5 L122,366 Z" fill="#111"/><path d="M124,366 L120,366.5 L120,368.5 L125,369" fill="#111"/><line x1="161" y1="348.5" x2="161" y2="371.5" stroke="#111" stroke-width="1.4"/><ellipse cx="161" cy="372.3" rx="4.3" ry="1.7" fill="#111"/><rect x="157.5" y="342" width="8.5" height="6.5" rx="1" fill="#e2e2e2" stroke="#222" stroke-width="0.8"/><circle cx="153.8" cy="339.2" r="3" fill="#111"/><path d="M149.5,343 L157.5,343 L158,346 L157,357 L158,368 L155,368 L153,377 L149.5,377 L151,365 L146.5,376 L144,374.5 L148.5,360 C148,354 148.5,348 149.5,343 Z" fill="#111"/><path d="M156,344.5 L160,345 L160,347 L156,347.5 Z" fill="#111"/><circle cx="107" cy="391" r="0.9" fill="#111"/><circle cx="171.5" cy="366" r="0.9" fill="#111"/><circle cx="140.7" cy="393" r="0.9" fill="#111"/><defs><linearGradient id="flr" x1="0" x2="1" y1="0" y2="0"><stop offset="0" stop-color="#c4c4c4"/><stop offset="0.5" stop-color="#d6d6d6"/><stop offset="1" stop-color="#f0f0f0"/></linearGradient></defs><polygon points="760.7,314.7 787.8,290.8 849.6,290.8 1008,315.3 1008,343 760.7,343" fill="url(#flr)"/><path d="M781.5,227.4 L781.5,219.5 C776.8,217.2 774.1,212.5 774.1,206.8 C774.1,199.8 779.4,194.1 786.3,194.1 C791.8,194.1 796,196.6 797.8,199 L799.2,203 L802.4,211.4 L800,212.6 L800,214.9 L798.7,218.5 C797.6,219.6 795.8,219.8 793.1,219.8 L793.1,227.4 Z" fill="#1f4e8c"/><path d="M777.5,204.5 C777.5,199.8 781,197.2 786,197.2 C791,197.2 795,199.5 795,204 C795,208.5 792,211 788,211 L787.5,214.5 L786,211 C780.5,211 777.5,208.5 777.5,204.5 Z" fill="#fff"/><path d="M779.5,203 Q782,200.5 784.5,202.5 Q787,199.5 790,202 Q792,200.5 793.5,203 M780,207 Q782.5,205 785,207 Q788,204.5 791,207 M786,202.5 L786.5,210" fill="none" stroke="#1f4e8c" stroke-width="0.9"/><g stroke="#1f4e8c" stroke-width="1.5" fill="none"><path d="M817,214 L811,231.5 M817,214 L823,231.5 M813.5,224 L820.5,224 M815,219 L819,219 M812,228.5 L822,228.5 M813.5,224 L822,228.5 M820.5,224 L812,228.5 M809.5,231.5 L824.5,231.5"/><path d="M812.3,205.5 Q809.5,210.5 812.3,215.5 M821.7,205.5 Q824.5,210.5 821.7,215.5 M809,203.5 Q804.8,210.5 809,217.5 M825,203.5 Q829.2,210.5 825,217.5"/></g><circle cx="817" cy="210.5" r="2.1" fill="#1f4e8c"/><g fill="#111"><circle cx="772" cy="318.5" r="2.8"/><path d="M768,322 L775,322 L780,326 L782,322.5 L784,323.5 L781,329 L776,327 L776,333 L779,342 L776,342 L772,335 L768,342 L765,342 L769,332 L769,327 L763,330 L762,328 Z"/><circle cx="787.5" cy="329" r="1.8"/><path d="M785,332 L790,332 L793,331 L794,332.5 L790,334.5 L790,341 L785,341 L785,334.5 L781,332.5 L782,331 Z"/><circle cx="796" cy="329.5" r="1.8"/><path d="M793.5,332.5 L798.5,332.5 L802,331 L803,332.5 L798.5,335 L798.5,341 L793.5,341 L793.5,335 L790.5,333 Z"/><rect x="760.7" y="340.5" width="43.5" height="2.2"/><circle cx="778" cy="320.5" r="1.2"/><path d="M782,317 L783,321 M785,316 L786,320 M788,316 L789,319" stroke="#111" stroke-width="0.8"/></g><g fill="#111"><rect x="817" y="316.5" width="18" height="22" rx="3"/><rect x="819.8" y="320.5" width="12.5" height="7" rx="1" fill="#fff"/><rect x="823.5" y="317.5" width="5" height="1.5" fill="#fff"/><rect x="819.5" y="331" width="2.8" height="2.8" fill="#fff"/><rect x="829.7" y="331" width="2.8" height="2.8" fill="#fff"/><path d="M819,338 L816,343.2 M833,338 L836,343.2 M818,341 L834,341" stroke="#111" stroke-width="1.4"/></g><g fill="#111"><path d="M858.5,316.6 C860.5,316.6 861,319 861,322 L861,329 L873,334 L873,336.5 L861,334 L861,339 L864.5,341.5 L864.5,342.6 L858.5,341.5 L852.5,342.6 L852.5,341.5 L856,339 L856,334 L845.4,336.5 L845.4,334 L856,329 L856,322 C856,319 856.5,316.6 858.5,316.6 Z"/><rect x="848.5" y="329.5" width="2" height="3.5"/><rect x="866.5" y="329.5" width="2" height="3.5"/></g><g><circle cx="898.5" cy="329" r="11" fill="none" stroke="#111" stroke-width="2.2"/><circle cx="898.5" cy="329" r="2.5" fill="#111"/><path d="M898.5,318 L898.5,340 M887.5,329 L909.5,329 M890.7,321.2 L906.3,336.8 M906.3,321.2 L890.7,336.8" stroke="#111" stroke-width="1.6"/><circle cx="909.5" cy="329.0" r="2" fill="#111"/><circle cx="906.3" cy="336.8" r="2" fill="#111"/><circle cx="898.5" cy="340.0" r="2" fill="#111"/><circle cx="890.7" cy="336.8" r="2" fill="#111"/><circle cx="887.5" cy="329.0" r="2" fill="#111"/><circle cx="890.7" cy="321.2" r="2" fill="#111"/><circle cx="898.5" cy="318.0" r="2" fill="#111"/><circle cx="906.3" cy="321.2" r="2" fill="#111"/><polygon points="896,331 901,331 904,342 893,342" fill="#111"/><rect x="886" y="341.5" width="25" height="2" fill="#111"/></g><g fill="#111"><path d="M931,321.8 L951.5,321.8 L953,331 L929.5,331 Z"/><path d="M935,323 L934,330 M939.5,323 L939,330 M944,323 L944,330 M948.5,323 L949,330" stroke="#fff" stroke-width="1.6"/><rect x="932" y="331" width="19" height="11"/><rect x="934.5" y="333.5" width="7" height="5.5" fill="#fff"/><rect x="944.5" y="333.5" width="4" height="8.5" fill="#fff"/></g><g fill="#111"><circle cx="981.5" cy="324.5" r="2"/><path d="M981.5,320 L981.5,329 M977,324.5 L986,324.5 M978.3,321.3 L984.7,327.7 M984.7,321.3 L978.3,327.7" stroke="#111" stroke-width="0.9"/><path d="M987.5,342 L987.5,329 L990,324 L995,321.3 L1000,324 L1002,329 L1002,342 Z"/><rect x="990.5" y="326" width="8.5" height="4" fill="#fff"/><rect x="991" y="332" width="7.5" height="7" fill="#fff"/><path d="M991,332 L998.5,339 M998.5,332 L991,339" stroke="#111" stroke-width="1"/><path d="M977.7,335.5 C983,333.5 990,334.5 996,337.5 C998,338.5 1000,339 1002,339 L1002,342 L977.7,342 Z" stroke="#fff" stroke-width="0.9"/></g></svg>
<svg style="left:802px;top:245px" width="24.7" height="18.6" viewBox="0 0 31 25"><rect x="1.2" y="1.2" width="28.6" height="22.6" fill="#fff" stroke="#111" stroke-width="2.4"/><polygon points="3.6,20 12.1,5.2 21.6,20" fill="#111"/><polygon points="10.2,9 12.1,6.2 14,9 13,10.3 12.1,9.6 11.2,10.3" fill="#fff"/><polygon points="18.6,12.6 20.4,10.4 27.2,20 23.2,20" fill="#111"/><circle cx="7.1" cy="5.6" r="1.4" fill="#111"/></svg>
<svg style="left:839.2px;top:241.3px" width="19.4" height="24.9" viewBox="0 0 16 21"><path d="M0.9,0.9 H8.6 L15.1,7 V20.1 H0.9 Z" fill="#fff" stroke="#111" stroke-width="1.7" stroke-linejoin="round"/><path d="M8.6,0.9 V6.4 H15.1" fill="#fff" stroke="#111" stroke-width="1.4"/><rect x="3.3" y="8.3" width="3.3" height="0.9" fill="#444"/><rect x="3.3" y="10.3" width="9.6" height="1" fill="#555"/><rect x="3.3" y="12.3" width="9.6" height="1" fill="#555"/><rect x="3.3" y="14.3" width="9.6" height="1" fill="#555"/><rect x="3.3" y="16.3" width="9.6" height="1" fill="#555"/></svg>
<svg style="left:823px;top:265.8px" width="26.7" height="30.6" viewBox="0 0 40 45.3"><path d="M10.6,45.3 L10.6,34.2 C4,31 0,24.5 0,16.8 C0,7.5 7.5,0 17.2,0 C25,0 31,3.5 33.5,7 L35.5,12.5 L39.7,23.6 L36.3,25.3 L36.3,28.5 L34.5,33.5 C33,35 30.5,35.4 26.7,35.4 L26.7,45.3 Z" fill="#1f3d7d"/><text x="6.6" y="23.8" font-family="Liberation Sans" font-weight="bold" font-size="18.5" textLength="20.6" lengthAdjust="spacingAndGlyphs" fill="#fff">AI</text></svg>
<svg style="left:905px;top:248.2px" width="27" height="42.7" viewBox="0 0 27 41"><path d="M0.5,38.5 L0.5,27 C0.5,23 3,21.2 8,20.2 L19,20.2 C24,21.2 26.5,23 26.5,27 L26.5,38.5 Z" fill="#3a7cc8" stroke="#1a3a6a" stroke-width="0.8"/><circle cx="13.5" cy="31" r="0.8" fill="#5a3a20"/><circle cx="13.5" cy="36.5" r="0.8" fill="#5a3a20"/><path d="M4,30 L8,30 M19,30 L23,30" stroke="#1a3a6a" stroke-width="0.6"/><path d="M6.5,8 L6.5,15 C7,19 10.5,21.5 13.5,21.5 C16.5,21.5 20,19 20.5,15 L20.5,8 Z" fill="#fff" stroke="#333" stroke-width="0.7"/><circle cx="10.5" cy="12.5" r="1.6" fill="none" stroke="#777" stroke-width="0.5"/><circle cx="16.5" cy="12.5" r="1.6" fill="none" stroke="#777" stroke-width="0.5"/><path d="M2.5,6.5 C2.5,1.5 8,0 13.5,0 C19,0 24.5,1.5 24.5,6.5 L22,8.5 L5,8.5 Z" fill="#3a7cc8" stroke="#1a3a6a" stroke-width="0.8"/><rect x="5" y="7.5" width="17" height="2" fill="#222"/><circle cx="13.5" cy="3.6" r="1.3" fill="#e8a030"/><path d="M9.5,17.5 L17.5,17.5 L17.5,23 L9.5,23 Z" fill="#1a1a1a"/><path d="M0.5,39.5 L10.5,22.5 L16.5,25 L6.5,41.5 C4,42 1,41.5 0.5,39.5 Z" fill="#3a7cc8" stroke="#1a3a6a" stroke-width="0.8"/><circle cx="14" cy="24.5" r="3.3" fill="#fff" stroke="#333" stroke-width="0.6"/></svg>
<svg style="left:937.5px;top:247.3px" width="27.8" height="40" viewBox="0 0 27 41"><path d="M0.5,38.5 L0.5,27 C0.5,23 3,21.2 8,20.2 L19,20.2 C24,21.2 26.5,23 26.5,27 L26.5,38.5 Z" fill="#3a7cc8" stroke="#1a3a6a" stroke-width="0.8"/><circle cx="13.5" cy="31" r="0.8" fill="#5a3a20"/><circle cx="13.5" cy="36.5" r="0.8" fill="#5a3a20"/><path d="M4,30 L8,30 M19,30 L23,30" stroke="#1a3a6a" stroke-width="0.6"/><path d="M6.5,8 L6.5,15 C7,19 10.5,21.5 13.5,21.5 C16.5,21.5 20,19 20.5,15 L20.5,8 Z" fill="#fff" stroke="#333" stroke-width="0.7"/><path d="M5.5,10 C5.5,8.5 8,8.5 13.5,9 C19,8.5 21.5,8.5 21.5,10 L21.5,14 C21.5,16.5 19,17 16,16.5 L13.5,15.5 L11,16.5 C8,17 5.5,16.5 5.5,14 Z" fill="#1a1a1a"/><path d="M2.5,6.5 C2.5,1.5 8,0 13.5,0 C19,0 24.5,1.5 24.5,6.5 L22,8.5 L5,8.5 Z" fill="#3a7cc8" stroke="#1a3a6a" stroke-width="0.8"/><rect x="5" y="7.5" width="17" height="2" fill="#222"/><circle cx="13.5" cy="3.6" r="1.3" fill="#e8a030"/><polygon points="10.5,20.5 16.5,20.5 13.5,26" fill="#fff"/><polygon points="12.8,21.5 14.2,21.5 14.8,30 13.5,31.5 12.2,30" fill="#333"/></svg>
<svg style="left:772px;top:300px" width="13.5" height="12.5" viewBox="0 0 33 32"><polygon points="4.7,10.1 22,0 31.8,4.4 14,15.1" fill="#e9e9e9"/><polygon points="14,15.1 31.8,4.4 32.7,18.1 14.9,31.1" fill="#cfcfcf"/><polygon points="26,21.5 31,18.8 31,20.8 26,23.5" fill="#333"/><polygon points="19,25 28,20.5 28,27 19,31" fill="#1e1e1e"/><ellipse cx="23.5" cy="28.5" rx="6.3" ry="3.4" fill="#1e1e1e"/><polygon points="0.3,13.3 4.7,10.1 14,15.1 14.9,31.1 13.1,31.9 1.6,27.1" fill="#161616"/><polygon points="2.6,15.5 12,20 12.5,28.8 3.4,24.6" fill="#4a4a4a"/><circle cx="7" cy="21.9" r="4.3" fill="#d5dbe0"/><circle cx="7" cy="21.9" r="3" fill="#7f9cba"/><circle cx="7" cy="21.9" r="1.5" fill="#e4ecf3"/></svg>
<svg style="left:812.8px;top:300px" width="13.5" height="12.5" viewBox="0 0 33 32"><polygon points="4.7,10.1 22,0 31.8,4.4 14,15.1" fill="#e9e9e9"/><polygon points="14,15.1 31.8,4.4 32.7,18.1 14.9,31.1" fill="#cfcfcf"/><polygon points="26,21.5 31,18.8 31,20.8 26,23.5" fill="#333"/><polygon points="19,25 28,20.5 28,27 19,31" fill="#1e1e1e"/><ellipse cx="23.5" cy="28.5" rx="6.3" ry="3.4" fill="#1e1e1e"/><polygon points="0.3,13.3 4.7,10.1 14,15.1 14.9,31.1 13.1,31.9 1.6,27.1" fill="#161616"/><polygon points="2.6,15.5 12,20 12.5,28.8 3.4,24.6" fill="#4a4a4a"/><circle cx="7" cy="21.9" r="4.3" fill="#d5dbe0"/><circle cx="7" cy="21.9" r="3" fill="#7f9cba"/><circle cx="7" cy="21.9" r="1.5" fill="#e4ecf3"/></svg>
<svg style="left:854.7px;top:300px" width="13.5" height="12.5" viewBox="0 0 33 32"><polygon points="4.7,10.1 22,0 31.8,4.4 14,15.1" fill="#e9e9e9"/><polygon points="14,15.1 31.8,4.4 32.7,18.1 14.9,31.1" fill="#cfcfcf"/><polygon points="26,21.5 31,18.8 31,20.8 26,23.5" fill="#333"/><polygon points="19,25 28,20.5 28,27 19,31" fill="#1e1e1e"/><ellipse cx="23.5" cy="28.5" rx="6.3" ry="3.4" fill="#1e1e1e"/><polygon points="0.3,13.3 4.7,10.1 14,15.1 14.9,31.1 13.1,31.9 1.6,27.1" fill="#161616"/><polygon points="2.6,15.5 12,20 12.5,28.8 3.4,24.6" fill="#4a4a4a"/><circle cx="7" cy="21.9" r="4.3" fill="#d5dbe0"/><circle cx="7" cy="21.9" r="3" fill="#7f9cba"/><circle cx="7" cy="21.9" r="1.5" fill="#e4ecf3"/></svg>
<svg style="left:895.5px;top:300px" width="13.5" height="12.5" viewBox="0 0 33 32"><polygon points="4.7,10.1 22,0 31.8,4.4 14,15.1" fill="#e9e9e9"/><polygon points="14,15.1 31.8,4.4 32.7,18.1 14.9,31.1" fill="#cfcfcf"/><polygon points="26,21.5 31,18.8 31,20.8 26,23.5" fill="#333"/><polygon points="19,25 28,20.5 28,27 19,31" fill="#1e1e1e"/><ellipse cx="23.5" cy="28.5" rx="6.3" ry="3.4" fill="#1e1e1e"/><polygon points="0.3,13.3 4.7,10.1 14,15.1 14.9,31.1 13.1,31.9 1.6,27.1" fill="#161616"/><polygon points="2.6,15.5 12,20 12.5,28.8 3.4,24.6" fill="#4a4a4a"/><circle cx="7" cy="21.9" r="4.3" fill="#d5dbe0"/><circle cx="7" cy="21.9" r="3" fill="#7f9cba"/><circle cx="7" cy="21.9" r="1.5" fill="#e4ecf3"/></svg>
<svg style="left:937px;top:300px" width="13.5" height="12.5" viewBox="0 0 33 32"><polygon points="4.7,10.1 22,0 31.8,4.4 14,15.1" fill="#e9e9e9"/><polygon points="14,15.1 31.8,4.4 32.7,18.1 14.9,31.1" fill="#cfcfcf"/><polygon points="26,21.5 31,18.8 31,20.8 26,23.5" fill="#333"/><polygon points="19,25 28,20.5 28,27 19,31" fill="#1e1e1e"/><ellipse cx="23.5" cy="28.5" rx="6.3" ry="3.4" fill="#1e1e1e"/><polygon points="0.3,13.3 4.7,10.1 14,15.1 14.9,31.1 13.1,31.9 1.6,27.1" fill="#161616"/><polygon points="2.6,15.5 12,20 12.5,28.8 3.4,24.6" fill="#4a4a4a"/><circle cx="7" cy="21.9" r="4.3" fill="#d5dbe0"/><circle cx="7" cy="21.9" r="3" fill="#7f9cba"/><circle cx="7" cy="21.9" r="1.5" fill="#e4ecf3"/></svg>
<svg style="left:978.5px;top:300px" width="13.5" height="12.5" viewBox="0 0 33 32"><polygon points="4.7,10.1 22,0 31.8,4.4 14,15.1" fill="#e9e9e9"/><polygon points="14,15.1 31.8,4.4 32.7,18.1 14.9,31.1" fill="#cfcfcf"/><polygon points="26,21.5 31,18.8 31,20.8 26,23.5" fill="#333"/><polygon points="19,25 28,20.5 28,27 19,31" fill="#1e1e1e"/><ellipse cx="23.5" cy="28.5" rx="6.3" ry="3.4" fill="#1e1e1e"/><polygon points="0.3,13.3 4.7,10.1 14,15.1 14.9,31.1 13.1,31.9 1.6,27.1" fill="#161616"/><polygon points="2.6,15.5 12,20 12.5,28.8 3.4,24.6" fill="#4a4a4a"/><circle cx="7" cy="21.9" r="4.3" fill="#d5dbe0"/><circle cx="7" cy="21.9" r="3" fill="#7f9cba"/><circle cx="7" cy="21.9" r="1.5" fill="#e4ecf3"/></svg>
<svg style="left:0;top:0" width="1024" height="451" viewBox="0 0 1024 451"><line x1="429" y1="378.8" x2="342.6" y2="388" stroke="#222" stroke-width="1.3"/><defs><linearGradient id="shd" x1="0" x2="1"><stop offset="0" stop-color="#eee"/><stop offset="0.5" stop-color="#d0d0d0"/><stop offset="1" stop-color="#eee"/></linearGradient></defs><path d="M3,167.8 C40,167.3 140,167.3 172,167.8 C150,171 110,173 88,175.8 C66,173 26,171 3,167.8 Z" fill="url(#shd)"/></svg>
<svg style="left:629px;top:253.5px" width="19" height="17" viewBox="0 0 19 17"><polygon points="9.5,1.2 18,16 1,16" fill="#fff" stroke="#e8702a" stroke-width="1.6" stroke-linejoin="round"/><rect x="8.7" y="5.5" width="1.6" height="6" fill="#e8702a"/><rect x="8.7" y="12.8" width="1.6" height="1.6" fill="#e8702a"/></svg>
<div class="t" style="left:8.00px;top:39.00px;font-size:11px;color:#262626;transform:scaleX(0.9034);">検証場所：ノエビアスタジアム神戸</div>
<div class="t b" style="left:14.00px;top:135.10px;font-size:10px;color:#222;transform:scaleX(0.9417);">平時および混雑環境下での</div>
<div class="t b" style="left:13.50px;top:145.90px;font-size:13px;color:#1a4a96;transform:scaleX(0.9470);"><span class="ai">AI</span>による通信量削減の検証</div>
<div class="t b" style="left:62.00px;top:185.10px;font-size:10px;color:#222;transform:scaleX(0.9099);">様々な<span class="ai">AI</span>モデル</div>
<div class="t b" style="left:19.00px;top:203.00px;font-size:11px;color:#222;transform:scaleX(1.0154);">人物の</div>
<div class="t b" style="left:19.00px;top:216.00px;font-size:11px;color:#222;transform:scaleX(1.0232);">転倒</div>
<div class="t b" style="left:72.93px;top:203.50px;font-size:11px;color:#222;transform:scaleX(1.1008);">暴力</div>
<div class="t b" style="left:72.91px;top:216.50px;font-size:11px;color:#222;transform:scaleX(1.0508);">検知</div>
<div class="t b" style="left:114.00px;top:203.50px;font-size:11px;color:#222;transform:scaleX(1.0364);">特定人物</div>
<div class="t b" style="left:114.00px;top:216.50px;font-size:11px;color:#222;transform:scaleX(1.0369);">の顔認証</div>
<div class="t b" style="left:36.00px;top:290.10px;font-size:13px;color:#1a4a96;transform:scaleX(0.9917);"><span class="ai">AI</span>高性能化の検証</div>
<div class="t b" style="left:7.00px;top:321.70px;font-size:10px;color:#222;transform:scaleX(0.9775);">環境変化に伴う<span class="ai">AI</span>検出精度差</div>
<div class="t b" style="left:39.50px;top:410.50px;font-size:10px;color:#222;transform:scaleX(1.0072);">運用効率性評価</div>
<div class="t b" style="left:28.99px;top:428.00px;font-size:13px;color:#1a4a96;transform:scaleX(0.9078);">システム可搬性の検証</div>
<div class="t b" style="left:256.00px;top:5.85px;font-size:18.5px;color:#1f3864;transform:scaleX(1.0482);">実証環境及び主な検証内容</div>
<div class="t b" style="left:180.00px;top:40.50px;font-size:14px;color:#1a4a96;transform:scaleX(0.9662);"><span class="ai">AI</span>によるリスク判定に応じた伝送データ量削減</div>
<div class="t b" style="left:494.00px;top:41.50px;font-size:14px;color:#1a4a96;transform:scaleX(1.0126);">通信幅輳度に応じた伝送データ量削減</div>
<div class="t" style="left:198.38px;top:69.25px;font-size:11.5px;color:#262626;transform:scaleX(0.9858);">リスク判定の指標</div>
<div class="t" style="left:219.50px;top:84.45px;font-size:11.5px;color:#262626;transform:scaleX(1.0667);">人物（人数<span class="n">・</span>年齢<span class="n">・</span>特徴）検出<span class="n">・</span>推定</div>
<div class="t" style="left:219.50px;top:100.25px;font-size:11.5px;color:#262626;transform:scaleX(1.0645);">炎<span class="n">・</span>煙検知</div>
<div class="t" style="left:286.10px;top:112.00px;font-size:11px;color:#262626;transform:scaleX(0.8932);"><span class="ai">AI</span>でのリスク判定を基に</div>
<div class="t" style="left:286.10px;top:127.20px;font-size:11px;color:#262626;transform:scaleX(0.9406);">映像を一部抽出、画像化、テキスト化</div>
<div class="t" style="left:533.10px;top:72.05px;font-size:11.5px;color:#262626;transform:scaleX(1.0659);">通信幅輳度判定の指標</div>
<div class="t" style="left:546.96px;top:88.25px;font-size:11.5px;color:#262626;transform:scaleX(0.8625);">リソースブロック使用率</div>
<div class="t" style="left:547.99px;top:102.85px;font-size:11.5px;color:#262626;transform:scaleX(0.8501);">アクティブユーザー数</div>
<div class="t" style="left:547.97px;top:118.45px;font-size:11.5px;color:#262626;transform:scaleX(0.8276);">セクタースループット</div>
<div class="t" style="left:306.50px;top:170.45px;font-size:11.5px;color:#262626;transform:scaleX(0.9094);">画像認識<span class="ai">AI</span>で検出<span class="n">・</span>分類した</div>
<div class="t b" style="left:445.50px;top:171.45px;font-size:11.5px;color:#ff0000;transform:scaleX(0.7822);">イベントのリスクレベルとエッジサーバから取得</div>
<div class="t b" style="left:304.48px;top:183.85px;font-size:11.5px;color:#ff0000;transform:scaleX(0.8928);">した通信幅輳度を<span class="ai">AI</span>で動的<span class="n">・</span>総合的に判断し、データ量を圧縮</div>
<div class="t b" style="left:196.00px;top:237.25px;font-size:10.5px;color:#222;transform:scaleX(0.8638);">大量の映像データ</div>
<div class="t b" style="left:339.96px;top:252.55px;font-size:10.5px;color:#222;transform:scaleX(0.7949);">リスクレベル<span class="n">・</span>通信</div>
<div class="t b" style="left:342.00px;top:264.75px;font-size:10.5px;color:#222;transform:scaleX(0.8295);">輻輳度に応じて圧</div>
<div class="t b" style="left:348.00px;top:275.65px;font-size:10.5px;color:#222;transform:scaleX(0.8054);">縮されたデータ</div>
<div class="t" style="left:430.00px;top:255.15px;font-size:11.5px;color:#262626;transform:scaleX(0.6087);">サマライズ</div>
<div class="t" style="left:425.02px;top:267.25px;font-size:11.5px;color:#262626;transform:scaleX(0.8359);"><span class="n">・</span>指示生成</div>
<div class="t b" style="left:485.20px;top:254.85px;font-size:10.5px;color:#222;transform:scaleX(0.8249);">状況サマリ<span class="n">・</span>指示</div>
<div class="t b" style="left:480.96px;top:310.35px;font-size:10.5px;color:#222;transform:scaleX(0.7949);">リスクレベル<span class="n">・</span>通信</div>
<div class="t b" style="left:483.00px;top:322.95px;font-size:10.5px;color:#222;transform:scaleX(0.8295);">輻輳度に応じて圧</div>
<div class="t b" style="left:489.00px;top:335.25px;font-size:10.5px;color:#222;transform:scaleX(0.8054);">縮されたデータ</div>
<div class="t" style="left:240.00px;top:272.20px;font-size:11px;color:#404040;transform:scaleX(1.0455);">有線</div>
<div class="t" style="left:240.00px;top:317.00px;font-size:11px;color:#404040;transform:scaleX(1.0455);">有線</div>
<div class="t" style="left:365.00px;top:316.00px;font-size:11px;color:#404040;transform:scaleX(1.0000);">有線</div>
<div class="t" style="left:578.00px;top:271.00px;font-size:11px;color:#404040;transform:scaleX(1.0000);">無線</div>
<div class="t" style="left:569.45px;top:293.25px;font-size:10.5px;color:#262626;transform:scaleX(0.9695);"><span class="ai">LTE</span>, 5<span class="ai">G</span></div>
<div class="t" style="left:634.97px;top:239.45px;font-size:10.5px;color:#262626;transform:scaleX(0.7203);">スマホ<span class="n">・</span>スマートグラス</div>
<div class="t" style="left:653.00px;top:322.45px;font-size:10.5px;color:#262626;transform:scaleX(0.9669);">対処 / 対応</div>
<div class="t" style="left:194.99px;top:343.40px;font-size:10px;color:#262626;transform:scaleX(0.8172);">カメラ<span class="n">・</span>ファーエッジは複数配置</div>
<div class="t" style="left:195.94px;top:361.60px;font-size:15px;color:#262626;transform:scaleX(0.7343);">カメラ</div>
<div class="t" style="left:279.98px;top:361.60px;font-size:15px;color:#262626;transform:scaleX(0.6982);">ファーエッジ</div>
<div class="t" style="left:394.19px;top:361.60px;font-size:15px;color:#262626;transform:scaleX(0.7545);">エッジサーバ</div>
<div class="t" style="left:588.79px;top:362.75px;font-size:15.5px;color:#262626;transform:scaleX(0.7188);">警備員<span class="n">・</span>イベントスタッフ</div>
<div class="t" style="left:210.40px;top:392.25px;font-size:11.5px;color:#262626;transform:scaleX(0.7957);">複数のファーエッジで取得した情報をエッジサーバ上の</div>
<div class="t b" style="left:449.08px;top:391.25px;font-size:11.5px;color:#ff0000;transform:scaleX(1.0336);"><span class="ai">AI</span>(小</div>
<div class="t b" style="left:210.40px;top:405.25px;font-size:11.5px;color:#ff0000;transform:scaleX(0.9124);">規模言語モデル:<span class="ai">SLM</span>)で統合<span class="n">・</span>要約の上、指示を生成</div>
<div class="t" style="left:467.24px;top:405.75px;font-size:11.5px;color:#262626;transform:scaleX(0.9053);">し、</div>
<div class="t" style="left:210.40px;top:419.65px;font-size:11.5px;color:#262626;transform:scaleX(0.8308);">携帯ネットワーク経由で配信</div>
<div class="t" style="left:210.40px;top:432.45px;font-size:11.5px;color:#262626;transform:scaleX(0.8355);">通信幅輳度を取得し各ファーエッジに通知</div>
<div class="t" style="left:510.20px;top:390.75px;font-size:11.5px;color:#262626;transform:scaleX(0.8362);">プッシュ型通知により張り付きではない警備の実現</div>
<div class="t" style="left:510.20px;top:405.85px;font-size:11.5px;color:#262626;transform:scaleX(0.8362);">スマホでの音声指示読み上げやスマートグラス投影</div>
<div class="t" style="left:511.20px;top:419.15px;font-size:11.5px;color:#262626;transform:scaleX(0.8344);">などハンズフリー通知による円滑な初動対応の実行</div>
<div class="t b" style="left:783.80px;top:6.25px;font-size:18.5px;color:#1f3864;transform:scaleX(1.0011);">社会実装に向けた展開</div>
<div class="t" style="left:766.89px;top:51.55px;font-size:13.5px;color:#262626;transform:scaleX(0.9846);">電波などの公共インフラや警備に係る</div>
<div class="t" style="left:796.50px;top:70.55px;font-size:13.5px;color:#262626;transform:scaleX(0.9699);">社会インフラの効率化による</div>
<div class="t b" style="left:792.09px;top:90.25px;font-size:13.5px;color:#111;transform:scaleX(1.1183);">地域社会の安全確保</div>
<div class="t" style="left:931.98px;top:89.75px;font-size:13.5px;color:#262626;transform:scaleX(1.0441);">を実現</div>
<div class="t b" style="left:763.19px;top:119.75px;font-size:11.5px;color:#222;transform:scaleX(0.7373);">①</div>
<div class="t b" style="left:772.99px;top:118.25px;font-size:11.5px;color:#111;transform:scaleX(0.8257);"><span class="ai">RIC</span>プラットフォームとの連携</div>
<div class="t" style="left:909.75px;top:118.75px;font-size:11.5px;color:#262626;transform:scaleX(0.7673);">により、</div>
<div class="t" style="left:774.00px;top:132.15px;font-size:11.5px;color:#262626;transform:scaleX(0.9151);">動的な通信資源<span class="n">・</span>計算資源の最適化を実現する</div>
<div class="t b" style="left:774.00px;top:145.25px;font-size:11.5px;color:#111;transform:scaleX(0.8781);"><span class="ai">AI×</span>通信アーキテクチャを確立</div>
<div class="t b" style="left:837.10px;top:175.95px;font-size:11.5px;color:#222;transform:scaleX(0.8676);">②</div>
<div class="t b" style="left:847.92px;top:174.45px;font-size:11.5px;color:#111;transform:scaleX(1.0397);">汎用<span class="ai">AI</span></div>
<div class="t" style="left:887.00px;top:175.45px;font-size:11.5px;color:#262626;transform:scaleX(0.8900);">が的確に状況を理解し、</div>
<div class="t" style="left:847.90px;top:189.45px;font-size:11.5px;color:#262626;transform:scaleX(0.8497);">状況に応じた指示を生成すること</div>
<div class="t" style="left:847.90px;top:203.25px;font-size:11.5px;color:#262626;transform:scaleX(0.7753);">で</div>
<div class="t b" style="left:857.40px;top:202.75px;font-size:11.5px;color:#111;transform:scaleX(0.8458);">スキルレベルに依存しない警備</div>
<div class="t b" style="left:847.90px;top:217.05px;font-size:11.5px;color:#111;transform:scaleX(0.9252);">業務の実現</div>
<div class="t" style="left:785.70px;top:176.85px;font-size:13.5px;color:#2e5597;transform:scaleX(0.9615);-webkit-text-stroke:0;"><span class="ai">RIC</span></div>
<div class="t" style="left:758.84px;top:346.35px;font-size:11.5px;color:#262626;transform:scaleX(0.7924);">コンサート</div>
<div class="t" style="left:763.89px;top:359.75px;font-size:11.5px;color:#262626;transform:scaleX(0.8001);">イベント</div>
<div class="t" style="left:819.48px;top:347.05px;font-size:11.5px;color:#262626;transform:scaleX(0.9601);">駅</div>
<div class="t" style="left:848.83px;top:347.05px;font-size:11.5px;color:#262626;transform:scaleX(0.9281);">空港</div>
<div class="t" style="left:880.90px;top:347.05px;font-size:11.5px;color:#262626;transform:scaleX(0.8919);">遊園地</div>
<div class="t" style="left:923.19px;top:347.05px;font-size:11.5px;color:#262626;transform:scaleX(0.9947);">小売店</div>
<div class="t" style="left:967.00px;top:347.05px;font-size:11.5px;color:#262626;transform:scaleX(0.9605);">過疎地域</div>
<div class="t b" style="left:764.81px;top:376.35px;font-size:11.5px;color:#222;transform:scaleX(0.8437);">③</div>
<div class="t b" style="left:776.49px;top:375.35px;font-size:11.5px;color:#111;transform:scaleX(0.8569);">可搬性が高く、環境変化に強い<span class="ai">AI</span>ソリューショ</div>
<div class="t b" style="left:775.00px;top:389.45px;font-size:11.5px;color:#111;transform:scaleX(0.8160);">ンと<span class="ai">AI</span>アーキテクチャの組み合わせ</div>
<div class="t" style="left:932.94px;top:390.45px;font-size:11.5px;color:#262626;transform:scaleX(0.7620);">により、様々</div>
<div class="t" style="left:776.00px;top:403.75px;font-size:11.5px;color:#262626;transform:scaleX(0.8321);">な場所で、その場の状況や必要に応じたサービ</div>
<div class="t" style="left:774.96px;top:418.85px;font-size:11.5px;color:#262626;transform:scaleX(0.8779);">スを実現</div>
</body></html>
